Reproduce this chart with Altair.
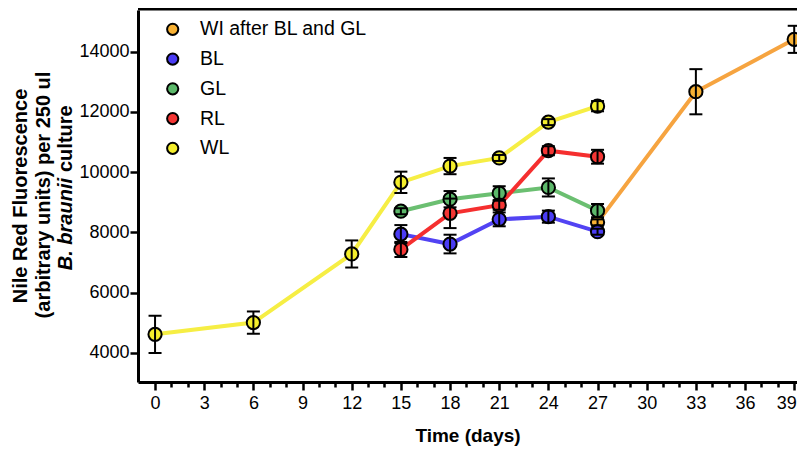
import altair as alt
import pandas as pd

series_names = ["WI after BL and GL", "BL", "GL", "RL", "WL"]
fill_colors = ["#f8b133", "#4a3cf4", "#5cb86a", "#f43634", "#f4ee2c"]
line_colors = ["#f6a440", "#5243f3", "#6bbf71", "#f52f2f", "#f6ee44"]

wi_days = [27, 33, 39]
wi_vals = [8330, 12670, 14410]
wi_err = [100, 750, 450]

bl_days = [15, 18, 21, 24, 27]
bl_vals = [7940, 7610, 8430, 8520, 8020]
bl_err = [300, 310, 230, 200, 100]

gl_days = [15, 18, 21, 24, 27]
gl_vals = [8700, 9100, 9300, 9490, 8720]
gl_err = [100, 270, 230, 300, 220]

rl_days = [15, 18, 21, 24, 27]
rl_vals = [7430, 8630, 8900, 10710, 10510]
rl_err = [250, 490, 150, 150, 230]

wl_days = [0, 6, 12, 15, 18, 21, 24, 27]
wl_vals = [4610, 5000, 7280, 9660, 10200, 10470, 11660, 12190]
wl_err = [620, 370, 450, 355, 270, 100, 100, 170]

x_tick_values = list(range(0, 40))
y_tick_values = [4000, 6000, 8000, 10000, 12000, 14000]
y_title_lines = ["Nile Red Fluorescence", "(arbitrary units) per 250 ul"]
y_title_italic = "B. braunii"
y_title_rest = "culture"
x_title = "Time (days)"

rows = []
for name, days, vals, errs in [
    (series_names[0], wi_days, wi_vals, wi_err),
    (series_names[1], bl_days, bl_vals, bl_err),
    (series_names[2], gl_days, gl_vals, gl_err),
    (series_names[3], rl_days, rl_vals, rl_err),
    (series_names[4], wl_days, wl_vals, wl_err),
]:
    for d, v, e in zip(days, vals, errs):
        rows.append({"series": name, "line": name, "day": d, "value": v, "lo": v - e, "hi": v + e})
df = pd.DataFrame(rows)
legend_df = pd.DataFrame({"series": series_names})

FONT = "Liberation Sans"
W, H = 659, 372
xscale = alt.Scale(domain=[-1.04, 39.17], nice=False, zero=False)
yscale = alt.Scale(domain=[3027, 15385], nice=False, zero=False)
fill_scale = alt.Scale(domain=series_names, range=fill_colors)

x_axis = alt.Axis(
    values=x_tick_values,
    format="d",
    labelExpr="datum.value % 3 === 0 ? datum.label : ''",
    tickSize=alt.ConditionalAxisNumber(condition={"test": "datum.value % 3 === 0", "value": 8}, value=5),
    labelOffset=alt.ConditionalAxisNumber(condition={"test": "datum.value === 39", "value": -8}, value=0),
    tickWidth=2.5,
    tickColor="black",
    domainWidth=3,
    domainColor="black",
    labelFont=FONT,
    labelFontSize=18,
    labelColor="black",
    labelPadding=4,
    labelOverlap=False,
    labelFlush=False,
    grid=False,
    title=x_title,
    titleFont=FONT,
    titleFontSize=19,
    titleFontWeight="bold",
    titleColor="black",
    titlePadding=14,
)
y_axis = alt.Axis(
    values=y_tick_values,
    format="d",
    tickSize=8,
    tickWidth=2.5,
    tickColor="black",
    domainWidth=3,
    domainColor="black",
    labelFont=FONT,
    labelFontSize=18,
    labelColor="black",
    labelPadding=1,
    labelOverlap=False,
    grid=False,
    title=None,
)

X = alt.X("day:Q", scale=xscale, axis=x_axis)

base = alt.Chart(df)

lines = base.mark_line(strokeWidth=4).encode(
    x=X,
    y=alt.Y("value:Q", scale=yscale, axis=y_axis),
    stroke=alt.Stroke("line:N", scale=alt.Scale(domain=series_names, range=line_colors), legend=None),
)

points = base.mark_circle(size=175, stroke="black", strokeWidth=2, opacity=1).encode(
    x=X,
    y=alt.Y("value:Q", scale=yscale, axis=y_axis),
    color=alt.Color("series:N", scale=fill_scale, legend=None),
)

err_rules = base.mark_rule(color="black", strokeWidth=2).encode(
    x=X,
    y=alt.Y("lo:Q", scale=yscale, axis=y_axis),
    y2="hi:Q",
)
cap_lo = base.mark_tick(orient="horizontal", size=13, thickness=2, color="black", opacity=1).encode(
    x=X,
    y=alt.Y("lo:Q", scale=yscale, axis=y_axis),
)
cap_hi = base.mark_tick(orient="horizontal", size=13, thickness=2, color="black", opacity=1).encode(
    x=X,
    y=alt.Y("hi:Q", scale=yscale, axis=y_axis),
)

one = pd.DataFrame({"k": [0]})
frame_top = alt.Chart(one).mark_rule(strokeWidth=3, color="black").encode(
    x=alt.value(0), x2=alt.value(W), y=alt.value(-1)
)

t1 = alt.Chart(one).mark_text(text=y_title_lines[0], angle=270, font=FONT, fontSize=20, fontWeight="bold",
                              align="center", baseline="middle", color="black").encode(
    x=alt.value(-117), y=alt.value(186))
t2 = alt.Chart(one).mark_text(text=y_title_lines[1], angle=270, font=FONT, fontSize=20, fontWeight="bold",
                              align="center", baseline="middle", color="black").encode(
    x=alt.value(-94), y=alt.value(185))
t3a = alt.Chart(one).mark_text(text=y_title_italic, angle=270, font=FONT, fontSize=20, fontWeight="bold",
                               fontStyle="italic", align="right", baseline="middle", color="black").encode(
    x=alt.value(-72), y=alt.value(168))
t3b = alt.Chart(one).mark_text(text=y_title_rest, angle=270, font=FONT, fontSize=20, fontWeight="bold",
                               align="left", baseline="middle", color="black").encode(
    x=alt.value(-72), y=alt.value(162))

main = alt.layer(lines, points, err_rules, cap_lo, cap_hi, frame_top, t1, t2, t3a, t3b)

leg_y = alt.Y("series:N", scale=alt.Scale(type="point", domain=series_names, range=[19.3, 138.3], padding=0), axis=None)
leg_pts = alt.Chart(legend_df).mark_circle(size=125, stroke="black", strokeWidth=2, opacity=1).encode(
    x=alt.value(34.7),
    y=leg_y,
    color=alt.Color("series:N", scale=fill_scale, legend=None),
)
leg_txt = alt.Chart(legend_df).mark_text(align="left", baseline="middle", font=FONT, fontSize=19.5, color="black").encode(
    x=alt.value(62),
    y=leg_y,
    text="series:N",
)
legend = alt.layer(leg_pts, leg_txt)

chart = alt.layer(main, legend).resolve_scale(y="independent").properties(
    width=W, height=H,
    autosize=alt.AutoSizeParams(type="none"),
    padding={"left": 130, "top": 2, "right": 0, "bottom": 70},
).configure(font=FONT).configure_view(strokeWidth=0)

chart.save("out.html", embed_options={"renderer": "svg", "actions": False})
